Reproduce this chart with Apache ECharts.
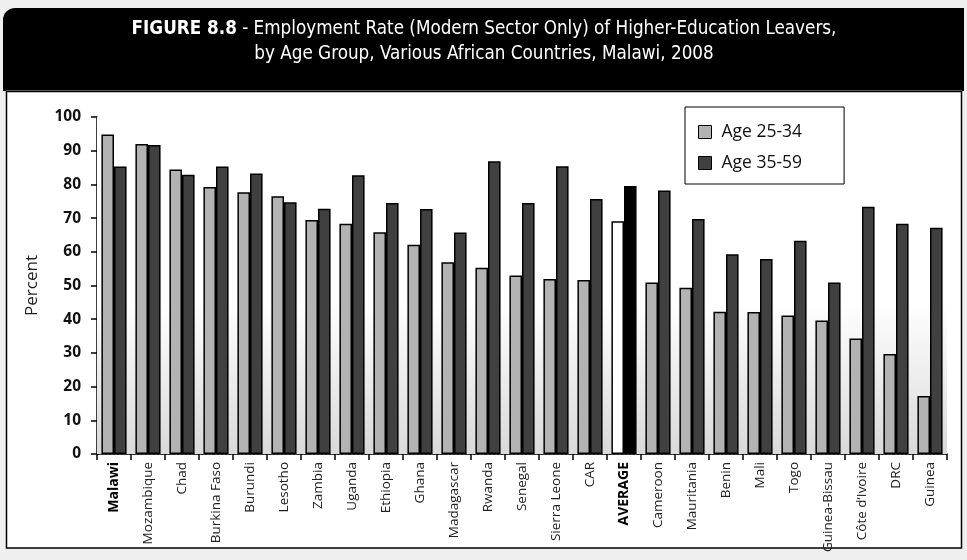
<!DOCTYPE html>
<html>
<head>
<meta charset="utf-8">
<script src="https://cdn.jsdelivr.net/npm/echarts@6/dist/echarts.min.js"></script>
<style>
  html, body { margin: 0; padding: 0; background: #efefef; }
  #chart { width: 967px; height: 560px; }
</style>
</head>
<body>
<div id="chart"></div>
<script>
// Employment rate of higher-education leavers by age group
const categories = ['Malawi', 'Mozambique', 'Chad', 'Burkina Faso', 'Burundi', 'Lesotho', 'Zambia',
  'Uganda', 'Ethiopia', 'Ghana', 'Madagascar', 'Rwanda', 'Senegal', 'Sierra Leone', 'CAR',
  'AVERAGE', 'Cameroon', 'Mauritania', 'Benin', 'Mali', 'Togo', 'Guinea-Bissau',
  'Côte d’Ivoire', 'DRC', 'Guinea'];
const age25to34 = [94.8, 92.0, 84.4, 79.2, 77.7, 76.5, 69.4, 68.3, 65.8, 62.1, 56.9, 55.3, 53.0,
  51.9, 51.6, 69.1, 50.9, 49.3, 42.2, 42.1, 41.1, 39.6, 34.3, 29.7, 17.2];
const age35to59 = [85.3, 91.7, 82.9, 85.3, 83.2, 74.7, 72.8, 82.7, 74.5, 72.7, 65.7, 86.9, 74.5,
  85.4, 75.7, 79.5, 78.2, 69.7, 59.3, 57.9, 63.3, 50.9, 73.4, 68.3, 67.1];
const yTicks = [0, 100, 10]; // min, max, step
const seriesNames = ['Age 25-34', 'Age 35-59'];
const boldCategories = ['Malawi', 'AVERAGE'];
const highlightCategory = 'AVERAGE';
const titleLines = [
  '{b|FIGURE 8.8} - Employment Rate (Modern Sector Only) of Higher-Education Leavers,',
  'by Age Group, Various African Countries, Malawi, 2008'
];

const AXIS_FONT = "'Open Sans', 'Noto Sans', sans-serif";
const TITLE_FONT = "'Liberation Sans Narrow', 'DejaVu Sans Condensed', 'Open Sans', sans-serif";

function buildData(values, highlightColor) {
  return values.map((v, i) => categories[i] === highlightCategory
    ? { value: v, itemStyle: { color: highlightColor } }
    : v);
}

const chart = echarts.init(document.getElementById('chart'), null, { renderer: 'canvas' });

chart.setOption({
  backgroundColor: '#efefef',
  animation: false,
  graphic: [
    // black header band
    { type: 'rect', z: -10, silent: true, shape: { x: 3, y: 8, width: 961, height: 83, r: [12, 0, 0, 0] },
      style: { fill: '#000' } },
    { type: 'rect', z: -10, silent: true, shape: { x: 6, y: 90, width: 956, height: 1.5 },
      style: { fill: '#777' } },
    // white chart panel
    { type: 'rect', z: -10, silent: true, shape: { x: 6.5, y: 91.5, width: 955, height: 456.5 },
      style: { fill: '#fff', stroke: '#000', lineWidth: 1.5 } },
    // header text
    { type: 'text', z: 10, silent: true, x: 484, y: 17,
      style: {
        text: titleLines.join('\n'),
        align: 'center',
        verticalAlign: 'top',
        fill: '#fff',
        font: '18.7px ' + TITLE_FONT,
        lineHeight: 25,
        rich: {
          b: { fill: '#fff', fontFamily: TITLE_FONT, fontSize: 18.7, fontWeight: 'bold', lineHeight: 25 }
        }
      } }
  ],
  legend: {
    orient: 'vertical',
    left: 685,
    top: 107,
    data: seriesNames,
    icon: 'rect',
    itemWidth: 13,
    itemHeight: 13,
    itemGap: 11,
    padding: [15, 42, 11, 13],
    backgroundColor: '#fff',
    borderColor: '#000',
    borderWidth: 1,
    itemStyle: { borderColor: '#000', borderWidth: 1 },
    textStyle: { fontFamily: AXIS_FONT, fontSize: 17.5, color: '#111', lineHeight: 20, padding: [0, 0, 0, 5] }
  },
  grid: {
    left: 97,
    right: 20,
    top: 117,
    bottom: 106,
    show: true,
    z: 1,
    borderWidth: 0,
    backgroundColor: {
      type: 'linear', x: 0, y: 0, x2: 0, y2: 1,
      colorStops: [
        { offset: 0, color: '#ffffff' },
        { offset: 0.55, color: '#ffffff' },
        { offset: 1, color: '#d9d9d9' }
      ]
    }
  },
  xAxis: {
    type: 'category',
    data: categories,
    axisLine: { lineStyle: { color: '#000', width: 1.5 } },
    axisTick: { show: true, length: 6, lineStyle: { color: '#000', width: 1.5 } },
    axisLabel: {
      interval: 0,
      rotate: 90,
      margin: 8,
      fontFamily: AXIS_FONT,
      fontSize: 13.5,
      color: '#222',
      formatter: v => boldCategories.includes(v) ? '{b|' + v + '}' : v,
      rich: { b: { fontFamily: AXIS_FONT, fontSize: 14, fontWeight: 'bold', color: '#000' } }
    }
  },
  yAxis: {
    type: 'value',
    min: yTicks[0],
    max: yTicks[1],
    interval: yTicks[2],
    name: 'Percent',
    nameLocation: 'middle',
    nameRotate: 90,
    nameGap: 56,
    nameTextStyle: { fontFamily: AXIS_FONT, fontSize: 17, color: '#222' },
    axisLine: { show: true, lineStyle: { color: '#000', width: 1.5 } },
    axisTick: { show: true, length: 6, lineStyle: { color: '#000', width: 1.5 } },
    axisLabel: { margin: 16, fontFamily: AXIS_FONT, fontSize: 15.5, fontWeight: 'bold', color: '#111' },
    splitLine: { show: true, lineStyle: { color: '#999', type: [2, 2], width: 1 } }
  },
  series: [
    {
      name: seriesNames[0],
      type: 'bar',
      data: buildData(age25to34, '#ffffff'),
      barWidth: '37%',
      barGap: '0%',
      itemStyle: { color: '#b3b3b3', borderColor: '#000', borderWidth: 1.5 }
    },
    {
      name: seriesNames[1],
      type: 'bar',
      data: buildData(age35to59, '#000000'),
      barWidth: '37%',
      barGap: '0%',
      itemStyle: { color: '#404040', borderColor: '#000', borderWidth: 1.5 }
    }
  ]
});
</script>
</body>
</html>
